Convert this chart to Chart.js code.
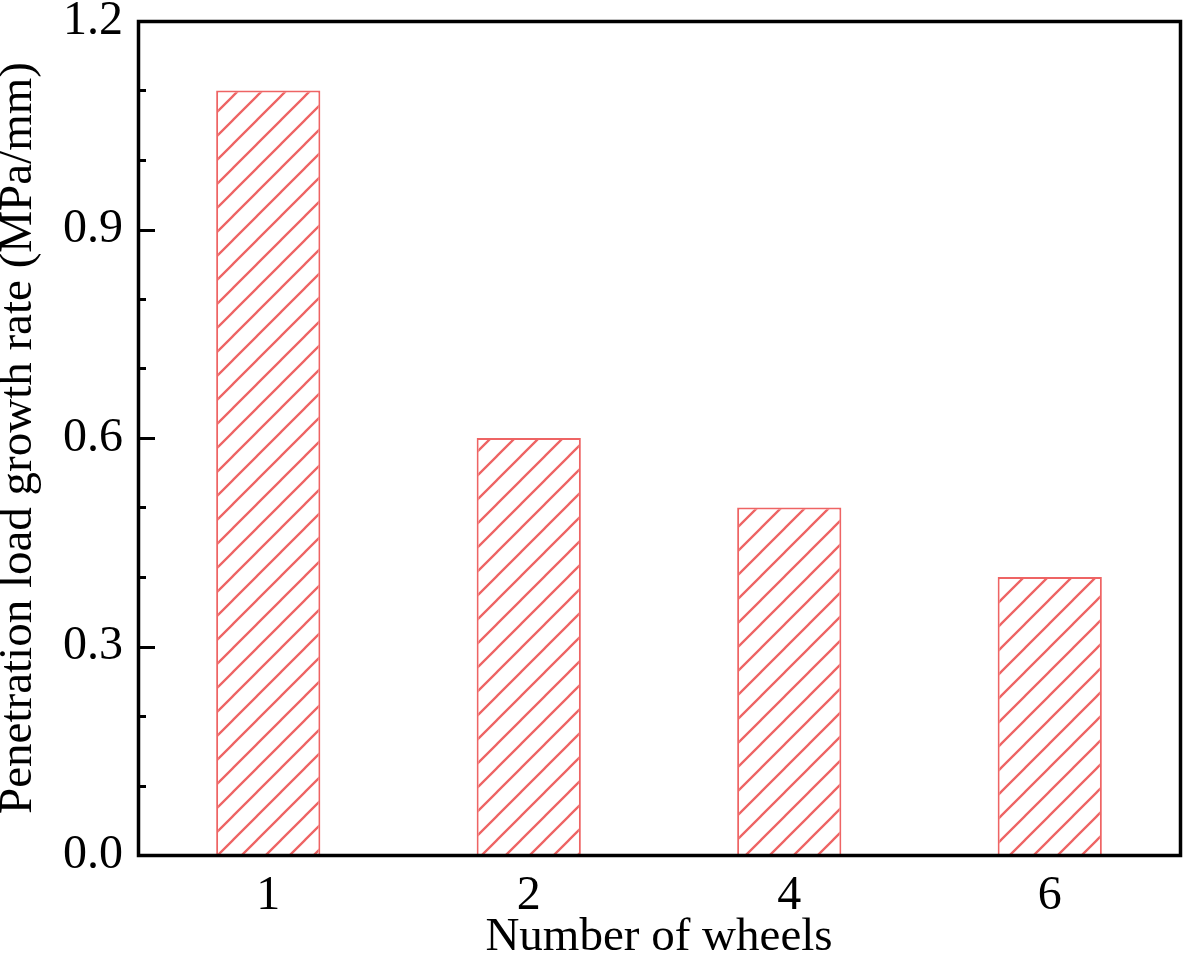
<!DOCTYPE html>
<html>
<head>
<meta charset="utf-8">
<script src="https://cdn.jsdelivr.net/npm/chart.js@4"></script>
<style>
  html, body { margin: 0; padding: 0; background: #fff; }
  canvas { display: block; }
</style>
</head>
<body>
<canvas id="c" width="1184" height="956"></canvas>
<script>
// ---- data ----
const categories = ['1', '2', '4', '6'];
const growthRate = [1.1, 0.6, 0.5, 0.4];
const yMin = 0;
const yMax = 1.2;
const yStep = 0.3;
const yMinorStep = 0.1;
const xTitle = 'Number of wheels';
const yTitle = 'Penetration load growth rate (MPa/mm)';

// ---- style ----
const barColor = 'rgb(238,100,100)';
const fontFamily = "'Liberation Serif', 'Times New Roman', serif";

function makeHatch() {
  const s = 24;
  const c = document.createElement('canvas');
  c.width = s; c.height = s;
  const g = c.getContext('2d');
  g.fillStyle = '#fff';
  g.fillRect(0, 0, s, s);
  g.strokeStyle = barColor;
  g.lineWidth = 2.3;
  g.beginPath();
  g.moveTo(-2, s + 2); g.lineTo(s + 2, -2);
  g.moveTo(-2, 2); g.lineTo(2, -2);
  g.moveTo(s - 2, s + 2); g.lineTo(s + 2, s - 2);
  g.stroke();
  const p = document.getElementById('c').getContext('2d').createPattern(c, 'repeat');
  if (p.setTransform) p.setTransform(new DOMMatrix().translateSelf(17, 0));
  return p;
}

const framePlugin = {
  id: 'frame',
  afterDraw(chart) {
    const { ctx, chartArea: a } = chart;
    const ys = chart.scales.y;
    ctx.save();
    ctx.strokeStyle = '#000';
    ctx.lineWidth = 3;
    ctx.lineCap = 'butt';
    // inward ticks on left axis
    const n = Math.round((yMax - yMin) / yMinorStep);
    const ratio = Math.round(yStep / yMinorStep);
    for (let i = 1; i < n; i++) {
      const v = yMin + i * yMinorStep;
      const py = Math.round(ys.getPixelForValue(v)) + 0.5;
      const len = (i % ratio === 0) ? 17 : 8;
      ctx.beginPath();
      ctx.moveTo(a.left, py);
      ctx.lineTo(a.left + len, py);
      ctx.stroke();
    }
    ctx.lineWidth = 3.5;
    ctx.strokeRect(a.left + 0.5, a.top + 0.5, a.right - a.left, a.bottom - a.top);
    ctx.restore();
  }
};

new Chart(document.getElementById('c'), {
  type: 'bar',
  data: {
    labels: categories,
    datasets: [{
      data: growthRate,
      backgroundColor: makeHatch(),
      borderColor: barColor,
      borderWidth: 2,
      categoryPercentage: 1.0,
      barPercentage: 0.4
    }]
  },
  options: {
    responsive: false,
    animation: false,
    devicePixelRatio: 1,
    layout: { padding: { top: 21, right: 4, left: 0, bottom: 0 } },
    plugins: { legend: { display: false }, tooltip: { enabled: false } },
    scales: {
      x: {
        grid: { display: false, drawTicks: false },
        border: { display: false },
        ticks: { color: '#000', padding: 13, font: { family: fontFamily, size: 48 } },
        title: {
          display: true, text: xTitle, color: '#000',
          font: { family: fontFamily, size: 47, lineHeight: 0.8 },
          padding: { top: 0, bottom: 0 }
        },
        afterFit(s) { s.height = 101; s.paddingLeft = 0; s.paddingRight = 0; }
      },
      y: {
        min: yMin, max: yMax,
        grid: { display: false, drawTicks: false },
        border: { display: false },
        ticks: {
          stepSize: yStep, color: '#000', padding: 15,
          font: { family: fontFamily, size: 48 },
          callback: v => Number(v).toFixed(1)
        },
        title: {
          display: true, text: yTitle, color: '#000',
          font: { family: fontFamily, size: 47, lineHeight: 0.8 },
          padding: { top: 0, bottom: 0 }
        },
        afterFit(s) { s.width = 138; s.paddingTop = 0; s.paddingBottom = 0; }
      }
    }
  },
  plugins: [framePlugin]
});
</script>
</body>
</html>
